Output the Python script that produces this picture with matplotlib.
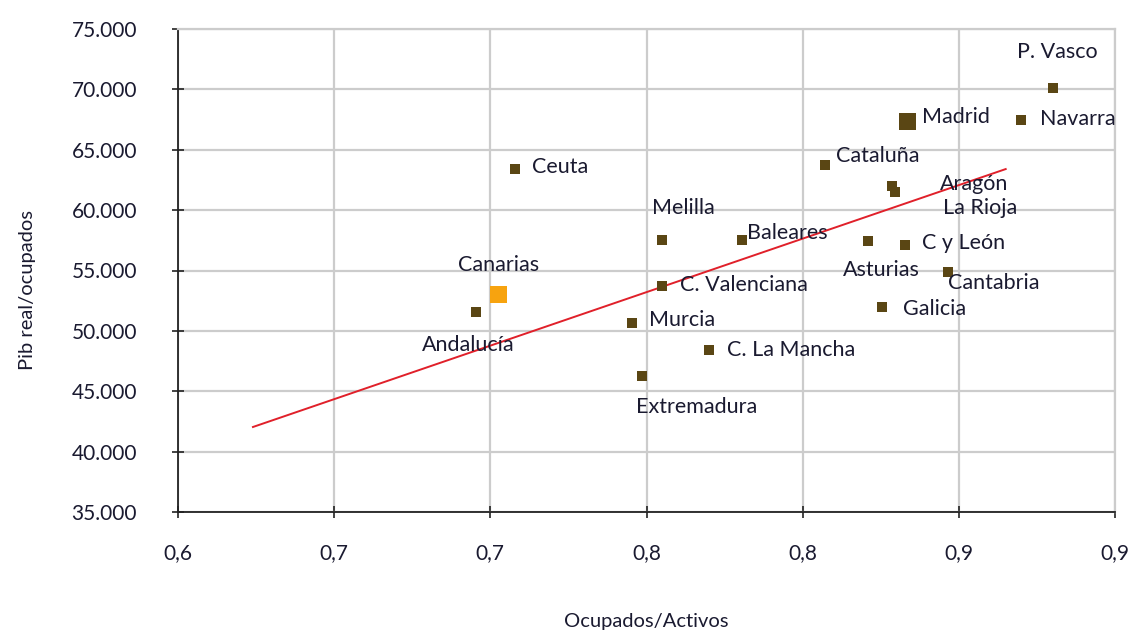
import matplotlib
matplotlib.use("Agg")
import matplotlib.pyplot as plt
from matplotlib.ticker import FuncFormatter

plt.rcParams['font.family'] = ['Lato', 'DejaVu Sans']

# ---- data ----
regions = ["Andalucía", "Canarias", "Ceuta", "Melilla", "C. Valenciana", "Murcia",
           "Extremadura", "C. La Mancha", "Baleares", "Cataluña", "Madrid", "Aragón",
           "La Rioja", "Asturias", "C y León", "Cantabria", "Galicia", "Navarra", "P. Vasco"]
ocupados_activos = [0.6954, 0.7025, 0.7079, 0.7550, 0.7550, 0.7454,
                    0.7486, 0.7700, 0.7806, 0.8072, 0.8334, 0.8286,
                    0.8296, 0.8210, 0.8328, 0.8466, 0.8254, 0.8700, 0.8802]
pib_ocupados = [51560, 53050, 63400, 57520, 53710, 50650,
                46260, 48410, 57520, 63730, 67370, 61990,
                61500, 57440, 57110, 54870, 51970, 67460, 70110]
trend_x = [0.624, 0.865]
trend_y = [42040, 63400]
x_ticks = [0.60, 0.65, 0.70, 0.75, 0.80, 0.85, 0.90]
x_tick_labels = ["0,6", "0,7", "0,7", "0,8", "0,8", "0,9", "0,9"]
y_ticks = [35000, 40000, 45000, 50000, 55000, 60000, 65000, 70000, 75000]

# ---- styling / layout ----
brown = "#5a4614"
orange = "#f7a30f"
big = {"Madrid": 17, "Canarias": 17}
colors = {"Canarias": orange}
# label offsets in pixels (dx, dy; dy positive = up) and alignment
label_pos = {
    "Andalucía": (-8, -33, "center"),
    "Canarias": (0, 29, "center"),
    "Ceuta": (17, 2, "left"),
    "Melilla": (21, 32, "center"),
    "C. Valenciana": (18, 1, "left"),
    "Murcia": (17, 3, "left"),
    "Extremadura": (54, -31, "center"),
    "C. La Mancha": (18, 0, "left"),
    "Baleares": (5, 7, "left"),
    "Cataluña": (11, 9, "left"),
    "Madrid": (15, 4, "left"),
    "Aragón": (48, 2, "left"),
    "La Rioja": (48, -16, "left"),
    "Asturias": (13, -29, "center"),
    "C y León": (17, 2, "left"),
    "Cantabria": (0, -11, "left"),
    "Galicia": (21, -2, "left"),
    "Navarra": (19, 1, "left"),
    "P. Vasco": (4, 36, "center"),
}
txt_color = "#1a1a30"
fs = 15.5

fig = plt.figure(figsize=(11.32, 6.34), dpi=100)
ax = fig.add_axes([178/1132, 1-512/634, (1115-178)/1132, (512-29)/634])

ax.set_xlim(0.6, 0.9)
ax.set_ylim(35000, 75000)
ax.set_xticks(x_ticks)
ax.set_xticklabels(x_tick_labels)
ax.set_yticks(y_ticks)
ax.yaxis.set_major_formatter(FuncFormatter(lambda v, p: f"{int(v):,}".replace(",", ".")))

ax.grid(True, color="#cccccc", linewidth=1.6, zorder=0)
ax.set_axisbelow(True)
for s in ["top", "right"]:
    ax.spines[s].set_color("#cccccc")
    ax.spines[s].set_linewidth(1.6)
for s in ["left", "bottom"]:
    ax.spines[s].set_color("#222222")
    ax.spines[s].set_linewidth(1.3)

ax.tick_params(axis="both", direction="inout", length=9, width=1.2, color="#222222",
               labelsize=15, labelcolor=txt_color)
ax.tick_params(axis="x", pad=18)
ax.tick_params(axis="y", pad=25)

ax.plot(trend_x, trend_y, color="#e0202a", linewidth=1.4, zorder=2)

for name, x, y in zip(regions, ocupados_activos, pib_ocupados):
    ms = big.get(name, 10.5)
    ax.plot([x], [y], marker="s", linestyle="none", markersize=ms * 0.72,
            color=colors.get(name, brown), markeredgewidth=0, zorder=3)
    dx, dy, ha = label_pos[name]
    ax.annotate(name, (x, y), xytext=(dx, dy), textcoords="offset pixels",
                ha=ha, va="center", fontsize=fs, color=txt_color, zorder=4)

ax.set_xlabel("Ocupados/Activos", fontsize=14.5, color=txt_color)
ax.set_ylabel("Pib real/ocupados", fontsize=14.5, color=txt_color)
ax.yaxis.set_label_coords(-150/937, 0.46)
ax.xaxis.set_label_coords(0.5, -(621-512)/483)
ax.xaxis.label.set_va("center")
ax.yaxis.label.set_va("center")

fig.savefig("out.png", dpi=100)
